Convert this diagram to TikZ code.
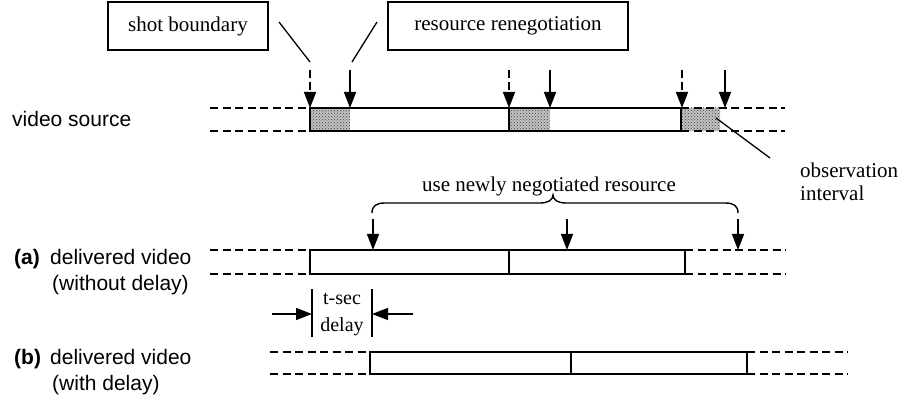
\documentclass[tikz,border=0pt]{standalone}
\usepackage{fontspec}
\setmainfont{Liberation Serif}
\setsansfont{Liberation Sans}
\usetikzlibrary{arrows.meta,patterns}

\tikzset{
  lw/.style={line width=1.6pt},
  trackdash/.style={line width=1.5pt, dash pattern=on 8pt off 4.5pt},
  tip/.style={-{Triangle[length=16pt,width=12pt]}, line width=1.5pt},
  dashtip/.style={tip, dash pattern=on 8pt off 4pt},
  grain/.style={fill=gray!48},
  grainspeck/.style={pattern=crosshatch dots, pattern color=black!75},
  sanslbl/.style={font=\sffamily\fontsize{21}{25}\selectfont, anchor=base west, inner sep=0pt},
  seriflbl/.style={font=\fontsize{21}{25}\selectfont, inner sep=0pt},
  small/.style={font=\fontsize{20}{24}\selectfont, inner sep=0pt, anchor=base},
  callout/.style={draw, line width=1.3pt, minimum height=48pt, font=\fontsize{21}{25}\selectfont}
}

\begin{document}
\begin{tikzpicture}[x=1pt,y=-1pt]
\useasboundingbox (0,0) rectangle (904,403);

% ---------- callout boxes ----------
\node[callout, minimum width=160pt] (shot) at (188,26) {shot boundary};
\node[callout, minimum width=240pt] (reneg) at (508,26) {resource renegotiation};
\coordinate (shotA) at (279,22);
\coordinate (shotB) at (310,62);
\coordinate (renA) at (377,22);
\coordinate (renB) at (352,62);
\draw[line width=1.3pt] (shotA) -- (shotB);
\draw[line width=1.3pt] (renA) -- (renB);

% ---------- video source track ----------
\node[sanslbl] (src) at (12,127) {video source};
\foreach \a/\b in {310/350,509/550,682/720}{
  \fill[grain] (\a,108) rectangle (\b,131);
  \fill[grainspeck] (\a,108) rectangle (\b,131);
}
\draw[lw] (310,108) rectangle (681,131);
\draw[lw] (509,108) -- (509,131);
\draw[trackdash] (210,108) -- (310,108) (210,131) -- (310,131);
\draw[trackdash] (681,108) -- (785,108) (681,131) -- (785,131);

% shot boundaries (dashed) and renegotiation points (solid)
\foreach \x/\n in {310/a,509/b,682/c}{
  \coordinate (sb\n) at (\x,70);
  \coordinate (se\n) at (\x,108);
  \draw[dashtip] (sb\n) -- (se\n);
}
\foreach \x/\n in {350/a,550/b,725/c}{
  \coordinate (rb\n) at (\x,70);
  \coordinate (re\n) at (\x,108);
  \draw[tip] (rb\n) -- (re\n);
}

% observation interval
\node[seriflbl, anchor=base west] (obs1) at (800,178) {observation};
\node[seriflbl, anchor=base west] (obs2) at (800,201) {interval};
\coordinate (obsA) at (716,118);
\coordinate (obsB) at (770,158);
\draw[line width=1.3pt] (obsA) -- (obsB);

% ---------- brace ----------
\node[seriflbl, anchor=base] (use) at (549,192) {use newly negotiated resource};
\draw[line width=1.4pt] (372,213) .. controls (372,206) and (376,203) .. (385,203) -- (540,203)
  .. controls (548,203) and (553,200) .. (553,195)
  .. controls (553,200) and (558,203) .. (566,203) -- (725,203)
  .. controls (734,203) and (738,206) .. (738,213);
\foreach \x/\n in {373/a,567/b,738/c}{
  \coordinate (ub\n) at (\x,219);
  \coordinate (ue\n) at (\x,250);
  \draw[tip] (ub\n) -- (ue\n);
}

% ---------- (a) delivered video without delay ----------
\node[sanslbl, font=\sffamily\bfseries\fontsize{21}{25}\selectfont] (la) at (14,265) {(a)};
\node[sanslbl] (la1) at (50,265) {delivered video};
\node[sanslbl] (la2) at (52,290) {(without delay)};
\draw[lw] (310,250) rectangle (685,274);
\draw[lw] (509,250) -- (509,274);
\draw[trackdash] (210,250) -- (310,250) (210,274) -- (310,274);
\draw[trackdash] (685,250) -- (786,250) (685,274) -- (786,274);

% ---------- t-sec delay ----------
\coordinate (d1t) at (312,289);
\coordinate (d1b) at (312,337);
\coordinate (d2t) at (372,289);
\coordinate (d2b) at (372,337);
\draw[line width=1.3pt] (d1t) -- (d1b) (d2t) -- (d2b);
\coordinate (al) at (272,314);
\coordinate (ar) at (312,314);
\coordinate (bl) at (413,314);
\coordinate (br) at (372,314);
\draw[tip, line width=1.3pt] (al) -- (ar);
\draw[tip, line width=1.3pt] (bl) -- (br);
\node[small] (ts) at (342,304) {t-sec};
\node[small] (dl) at (342,331) {delay};

% ---------- (b) delivered video with delay ----------
\node[sanslbl, font=\sffamily\bfseries\fontsize{21}{25}\selectfont] (lb) at (14,364) {(b)};
\node[sanslbl] (lb1) at (50,364) {delivered video};
\node[sanslbl] (lb2) at (52,390) {(with delay)};
\draw[lw] (370,352) rectangle (747,374);
\draw[lw] (571,352) -- (571,374);
\draw[trackdash] (270,352) -- (370,352) (270,374) -- (370,374);
\draw[trackdash] (747,352) -- (848,352) (747,374) -- (848,374);
\end{tikzpicture}
\end{document}
